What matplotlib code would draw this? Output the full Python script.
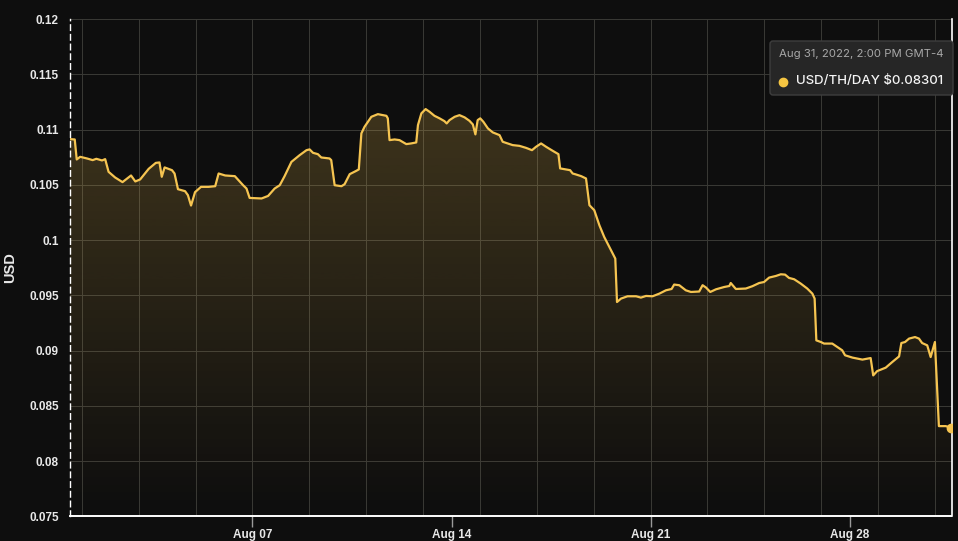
"""Hashprice (USD/TH/DAY) area chart, August 2022, dark theme."""

import matplotlib.dates as mdates
import matplotlib.pyplot as plt
import numpy as np
import pandas as pd
from matplotlib.lines import Line2D
from matplotlib.patches import FancyBboxPatch
from matplotlib.ticker import FuncFormatter, MultipleLocator

# days since 2022-08-01 00:00 (local GMT-4), hashprice in USD/TH/day
days = [-0.42, -0.25, -0.18, -0.06, 0.18, 0.38, 0.51, 0.71, 0.82, 0.94,
        1.17, 1.43, 1.73, 1.88, 2.05, 2.35, 2.60, 2.73, 2.81, 2.91,
        3.17, 3.26, 3.38, 3.63, 3.73, 3.84, 3.98, 4.19, 4.45, 4.69,
        4.81, 5.04, 5.38, 5.67, 5.79, 5.90, 6.32, 6.55, 6.78, 6.96,
        7.13, 7.37, 7.66, 7.90, 8.01, 8.13, 8.30, 8.42, 8.71, 8.77,
        8.89, 9.13, 9.24, 9.42, 9.65, 9.74, 9.83, 9.94, 10.18, 10.41,
        10.71, 10.76, 10.82, 11.00, 11.17, 11.41, 11.58, 11.76, 11.82, 11.94,
        12.09, 12.23, 12.40, 12.58, 12.75, 12.83, 12.93, 13.11, 13.28, 13.46,
        13.63, 13.75, 13.84, 13.92, 14.01, 14.12, 14.28, 14.45, 14.69, 14.80,
        14.98, 15.15, 15.39, 15.62, 15.83, 15.97, 16.15, 16.33, 16.56, 16.76,
        16.82, 17.03, 17.17, 17.26, 17.38, 17.56, 17.73, 17.85, 18.02, 18.20,
        18.37, 18.55, 18.76, 18.82, 18.96, 19.19, 19.49, 19.66, 19.84, 20.07,
        20.31, 20.54, 20.74, 20.83, 21.01, 21.24, 21.42, 21.71, 21.83, 21.95,
        22.10, 22.30, 22.59, 22.77, 22.82, 23.00, 23.35, 23.58, 23.82, 23.99,
        24.17, 24.41, 24.58, 24.73, 24.87, 25.05, 25.28, 25.51, 25.69, 25.77,
        25.83, 25.99, 26.10, 26.39, 26.57, 26.74, 26.84, 27.10, 27.45, 27.74,
        27.83, 27.97, 28.27, 28.50, 28.74, 28.82, 28.95, 29.09, 29.30, 29.44,
        29.55, 29.73, 29.85, 30.00, 30.14, 30.38, 30.583]

usd = [0.10913, 0.10910, 0.10729, 0.10753, 0.10738, 0.10723, 0.10735, 0.10720, 0.10732, 0.10617,
       0.10566, 0.10524, 0.10584, 0.10530, 0.10548, 0.10644, 0.10698, 0.10702, 0.10572, 0.10657,
       0.10632, 0.10602, 0.10460, 0.10442, 0.10406, 0.10312, 0.10433, 0.10481, 0.10481, 0.10487,
       0.10602, 0.10584, 0.10578, 0.10496, 0.10466, 0.10381, 0.10376, 0.10399, 0.10466, 0.10496,
       0.10578, 0.10707, 0.10768, 0.10813, 0.10820, 0.10789, 0.10777, 0.10747, 0.10738, 0.10723,
       0.10496, 0.10487, 0.10505, 0.10596, 0.10626, 0.10639, 0.10965, 0.11024, 0.11115, 0.11139,
       0.11124, 0.11101, 0.10904, 0.10910, 0.10904, 0.10868, 0.10874, 0.10883, 0.11040, 0.11146,
       0.11185, 0.11160, 0.11124, 0.11101, 0.11076, 0.11055, 0.11085, 0.11115, 0.11130, 0.11110,
       0.11079, 0.11046, 0.10956, 0.11085, 0.11101, 0.11070, 0.11010, 0.10974, 0.10949, 0.10889,
       0.10874, 0.10859, 0.10852, 0.10834, 0.10813, 0.10843, 0.10874, 0.10843, 0.10807, 0.10777,
       0.10648, 0.10639, 0.10632, 0.10602, 0.10593, 0.10578, 0.10557, 0.10315, 0.10270, 0.10134,
       0.10028, 0.09938, 0.09832, 0.09439, 0.09470, 0.09491, 0.09491, 0.09479, 0.09494, 0.09491,
       0.09515, 0.09545, 0.09557, 0.09597, 0.09591, 0.09545, 0.09530, 0.09534, 0.09591, 0.09570,
       0.09530, 0.09554, 0.09575, 0.09584, 0.09611, 0.09557, 0.09561, 0.09582, 0.09611, 0.09620,
       0.09660, 0.09675, 0.09690, 0.09687, 0.09657, 0.09645, 0.09606, 0.09561, 0.09515, 0.09470,
       0.09092, 0.09077, 0.09063, 0.09063, 0.09032, 0.09002, 0.08957, 0.08936, 0.08918, 0.08932,
       0.08775, 0.08814, 0.08845, 0.08896, 0.08947, 0.09068, 0.09077, 0.09108, 0.09122, 0.09108,
       0.09068, 0.09047, 0.08941, 0.09077, 0.08316, 0.08316, 0.08301]

y_min, y_max = 0.075, 0.12
x_start, x_end = pd.Timestamp('2022-07-31 14:00'), pd.Timestamp('2022-08-31 14:00')

BG = '#0e0e0e'
GOLD = '#f5c451'
GRID = '#3a3a36'

t = pd.Timestamp('2022-08-01') + pd.to_timedelta(days, unit='D')

fig = plt.figure(figsize=(9.58, 5.41), dpi=100, facecolor=BG)
ax = fig.add_axes([70 / 958, 24.7 / 541, 881.5 / 958, 497.3 / 541], facecolor=BG)

# gradient fill under the line, clipped to the area polygon
area = ax.fill_between(t, usd, y_min, color='none', lw=0)
grad = np.zeros((256, 1, 4))
grad[..., 0], grad[..., 1], grad[..., 2] = 245 / 255, 196 / 255, 81 / 255
grad[:, 0, 3] = np.linspace(0.21, 0.0, 256)
x0, x1 = mdates.date2num(x_start), mdates.date2num(x_end)
im = ax.imshow(grad, extent=[x0, x1, y_min, 0.112], origin='upper', aspect='auto', zorder=1)
im.set_clip_path(area.get_paths()[0], transform=ax.transData)

ax.plot(t, usd, color=GOLD, lw=1.6, zorder=3, solid_joinstyle='round')
ax.plot(t[-1:], usd[-1:], 'o', color=GOLD, ms=6, zorder=4)

ax.set_xlim(x_start, x_end)
ax.set_ylim(y_min, y_max)

# y axis
ax.yaxis.set_major_locator(MultipleLocator(0.005))
ax.yaxis.set_major_formatter(FuncFormatter(lambda v, _: f'{v:.3f}'.rstrip('0')))
ax.tick_params(axis='y', length=0, pad=8, labelcolor='#e8e8e8', labelsize=8.5)
ax.set_ylabel('USD', color='#e8e8e8', fontsize=10.5, fontweight='bold', labelpad=9)

# x axis: weekly labels, gridlines every other day
ax.xaxis.set_major_locator(mdates.DayLocator(bymonthday=[7, 14, 21, 28]))
ax.xaxis.set_major_formatter(mdates.DateFormatter('%b %d'))
ax.xaxis.set_minor_locator(mdates.DayLocator(bymonthday=range(1, 32, 2)))
ax.xaxis.remove_overlapping_locs = False
ax.tick_params(axis='x', which='major', length=8, width=1, color='#9a9a9a',
               pad=1, labelcolor='#e8e8e8', labelsize=8.5)
ax.tick_params(axis='x', which='minor', length=0)

for lbl in ax.get_xticklabels() + ax.get_yticklabels():
    lbl.set_fontfamily('Liberation Sans')
    lbl.set_fontweight('bold')
ax.yaxis.label.set_fontfamily('Liberation Sans')

ax.grid(axis='y', color=GRID, lw=0.7)
ax.grid(axis='x', which='minor', color=GRID, lw=0.7)
ax.set_axisbelow(True)

ax.spines['top'].set_visible(False)
ax.spines['left'].set_color('white')
ax.spines['left'].set_linestyle((0, (4, 3)))
ax.spines['left'].set_linewidth(1.0)
ax.spines['bottom'].set_color('white')
ax.spines['bottom'].set_linewidth(1.4)
ax.spines['right'].set_color('white')
ax.spines['right'].set_linewidth(1.2)

# hover tooltip
tip = FancyBboxPatch((7.70, 4.46), 1.83, 0.54, boxstyle='round,pad=0,rounding_size=0.03',
                     transform=fig.dpi_scale_trans, facecolor='#262626',
                     edgecolor='#3e3e3e', lw=1, zorder=10)
fig.add_artist(tip)
fig.text(7.79, 4.867, 'Aug 31, 2022, 2:00 PM GMT-4', transform=fig.dpi_scale_trans,
         color='#a8a8a8', fontsize=8.2, family='Inter', va='center', ha='left', zorder=11)
fig.add_artist(Line2D([7.83], [4.594], marker='o', ms=6, color='#f5c542',
                      transform=fig.dpi_scale_trans, zorder=11))
fig.text(7.955, 4.60, 'USD/TH/DAY $0.08301', transform=fig.dpi_scale_trans,
         color='#f4f4f4', fontsize=9.5, family='Inter', fontweight='medium',
         va='center', ha='left', zorder=11)

fig.savefig('out.png', dpi=100, facecolor=BG)
plt.close(fig)
